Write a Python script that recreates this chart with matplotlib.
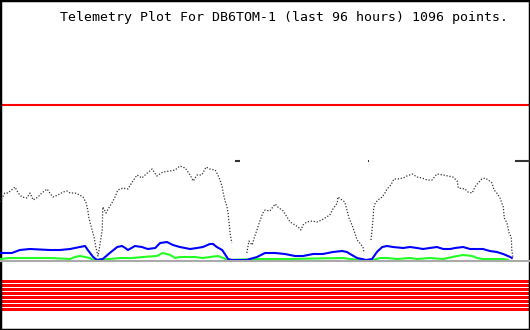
import numpy as np
import matplotlib
matplotlib.use("Agg")
import matplotlib.pyplot as plt

title = "Telemetry Plot For DB6TOM-1 (last 96 hours) 1096 points."

# black (dark) series: hours, value ; NaN marks data gaps
black_h = [0.0, 0.9, 1.5, 2.8, 3.4, 4.1, 5.0, 5.6, 6.2, 7.1, 7.8, 8.8, 9.3, 9.9, 10.8, 11.8, 12.5, 13.1,
           14.0, 14.9, 15.5, 16.1, 16.4, 16.6, 17.2, 17.6, 17.9, 18.3, 18.5, 19.1, 19.2, 19.8, 20.2,
           20.9, 21.5, 22.0, 23.0, 23.9, 24.7, 25.6, 26.5, 27.5, 28.4, 29.3, 30.4, 31.8, 32.7, 33.6,
           34.6, 35.5, 36.1, 36.8, 37.7, 38.5, 39.2, 40.2, 40.7, 41.1, 41.5, 41.7, 42.0, 42.4, 42.6,
           43.0, 43.3, 44.5,
           46.1, 46.5, 47.1, 47.6, 48.0, 48.6, 49.1, 49.5, 50.4, 51.4, 51.9, 52.9, 53.6, 54.2, 55.1,
           55.7, 56.2, 56.6, 57.3, 58.3, 59.2, 60.1, 60.7, 61.6, 62.2, 63.0, 63.1, 63.9, 64.4, 64.8,
           65.2, 65.9, 66.7, 67.2, 67.8, 68.0, 68.6,
           69.3, 69.5, 69.7, 69.8, 70.1, 70.6, 71.4, 71.9, 72.3, 73.0, 73.6, 74.3, 75.3, 76.0, 77.0,
           77.9, 78.8, 79.8, 80.7, 81.6, 82.8, 83.7, 84.6, 85.4, 85.6, 86.9, 87.4, 88.2, 88.7, 89.3,
           90.0, 90.6, 91.2, 91.9, 92.3, 92.8, 93.4, 94.0, 94.2, 94.7, 95.1, 95.5, 95.6, 95.8]
black_v = [5.8, 6.7, 6.7, 7.3, 6.7, 6.3, 6.2, 6.7, 6.0, 6.3, 6.7, 7.1, 6.7, 6.3, 6.5, 6.8, 6.9, 6.7,
           6.7, 6.5, 6.3, 5.7, 5.0, 4.2, 3.0, 2.2, 1.3, 0.4, 1.0, 3.0, 5.3, 4.7, 5.1,
           5.7, 6.3, 7.0, 7.2, 7.1, 7.8, 8.5, 8.2, 8.7, 9.1, 8.4, 8.8, 8.9, 9.0, 9.4,
           9.2, 8.5, 7.9, 8.5, 8.5, 9.3, 9.1, 9.0, 8.5, 8.0, 7.3, 6.7, 6.0, 5.3, 4.7,
           2.6, 1.7, np.nan,
           0.7, 1.9, 1.5, 2.4, 3.0, 4.0, 4.7, 5.0, 4.9, 5.6, 5.3, 4.9, 4.3, 3.8, 3.5,
           3.3, 3.0, 3.5, 3.8, 3.9, 3.8, 4.0, 4.2, 4.5, 5.1, 5.7, 6.3, 6.0, 5.8, 5.0,
           4.2, 3.3, 2.0, 1.7, 1.3, 0.7, np.nan,
           2.0, 3.0, 4.2, 5.2, 5.7, 6.0, 6.3, 6.7, 7.1, 7.5, 8.1, 8.1, 8.2, 8.4, 8.6,
           8.3, 8.2, 8.0, 8.0, 8.6, 8.5, 8.4, 8.3, 7.9, 7.2, 7.1, 6.8, 6.7, 7.3, 7.7,
           8.1, 8.2, 8.0, 7.7, 7.0, 6.7, 6.2, 5.3, 4.2, 3.7, 2.7, 2.3, 1.0, 0.3]

# isolated high readings (start hour, end hour) at a fixed level
spike_start = [43.9, 68.8, 96.2]
spike_end = [44.8, 69.0, 99.0]
spike_level = 9.9

blue_h = [0.0, 2.2, 3.7, 5.6, 9.3, 11.2, 13.1, 14.9, 15.9, 16.4, 17.4, 18.1, 19.2, 20.5, 21.9, 22.8,
          23.4, 23.9, 25.2, 26.5, 27.6, 29.0, 29.9, 31.2, 32.3, 33.6, 35.5, 36.8, 37.9, 39.2, 39.8,
          40.5, 41.5, 42.0, 42.6, 43.3, 46.1, 46.7, 48.0, 49.5, 51.4, 53.2, 55.1, 56.6, 58.5, 60.3,
          62.2, 63.9, 64.8, 65.4, 66.7, 67.6, 68.4, 69.5, 70.4, 71.4, 72.3, 73.4, 75.3, 76.6, 77.9,
          79.0, 80.3, 81.6, 82.8, 84.1, 85.0, 86.5, 87.8, 89.3, 90.2, 91.5, 92.8, 94.0, 95.3, 95.6]
blue_v = [0.7, 0.7, 1.0, 1.1, 1.0, 1.0, 1.1, 1.3, 1.4, 1.0, 0.3, 0.0, 0.1, 0.7, 1.3, 1.4,
          1.2, 1.0, 1.4, 1.3, 1.1, 1.2, 1.7, 1.8, 1.5, 1.3, 1.1, 1.2, 1.3, 1.6, 1.6,
          1.3, 1.0, 0.6, 0.1, 0.0, 0.0, 0.1, 0.3, 0.7, 0.7, 0.6, 0.4, 0.4, 0.6, 0.6,
          0.8, 0.9, 0.8, 0.6, 0.2, 0.1, 0.0, 0.1, 0.8, 1.3, 1.4, 1.3, 1.2, 1.3, 1.2,
          1.1, 1.2, 1.3, 1.1, 1.1, 1.2, 1.3, 1.1, 1.1, 1.1, 0.9, 0.8, 0.6, 0.3, 0.2]

green_h = [0.0, 1.9, 9.3, 13.1, 14.0, 14.9, 15.9, 16.8, 17.4, 20.5, 22.4, 24.8, 26.7, 29.3, 30.4,
           31.8, 32.7, 33.6, 36.4, 37.9, 39.2, 40.7, 41.7, 42.6, 48.0, 54.2, 64.1, 65.4, 67.2,
           69.7, 71.0, 72.3, 74.2, 76.6, 77.9, 80.3, 82.8, 85.4, 86.5, 88.2, 89.1, 90.2, 94.0, 94.9]
green_v = [0.1, 0.2, 0.2, 0.1, 0.3, 0.4, 0.3, 0.2, 0.0, 0.1, 0.2, 0.2, 0.3, 0.4, 0.7,
           0.5, 0.2, 0.3, 0.3, 0.2, 0.3, 0.4, 0.2, 0.0, 0.1, 0.1, 0.2, 0.1, 0.0,
           0.0, 0.2, 0.2, 0.1, 0.2, 0.1, 0.2, 0.1, 0.4, 0.5, 0.4, 0.2, 0.1, 0.1, 0.0]

limit_level = 15.55
n_stripes = 8

fig = plt.figure(figsize=(5.3, 3.3), dpi=100)
ax = fig.add_axes([0, 0, 1, 1])
ax.set_xlim(0, 99)
ax.set_ylim(-7.0, 26.0)
ax.set_xticks([])
ax.set_yticks([])
for s in ax.spines.values():
    s.set_linewidth(2.5)
    s.set_color("black")

# status stripes
for i in range(n_stripes):
    top = -2.0 - 0.4 * i
    ax.axhspan(top - 0.3, top, color="#ff0000", lw=0)

ax.axhline(limit_level, color="#ff0000", lw=1.5)

ax.plot(green_h, green_v, color="#22ff22", lw=1.5, zorder=3)
ax.plot(blue_h, blue_v, color="#0000ff", lw=1.5, zorder=4)
ax.plot(black_h, black_v, color="#333333", lw=0.9, ls=(0, (1.0, 1.4)), zorder=5)
ax.hlines([spike_level] * len(spike_start), spike_start, spike_end, color="#333333", lw=1.5, zorder=5)

ax.axhline(-0.05, color="#aaaaaa", lw=1.5, zorder=6)

fig.text(0.113, 0.948, title, family="DejaVu Sans Mono", fontsize=9.55,
         ha="left", va="center", color="black")

fig.savefig("out.png", dpi=100, facecolor="white")
